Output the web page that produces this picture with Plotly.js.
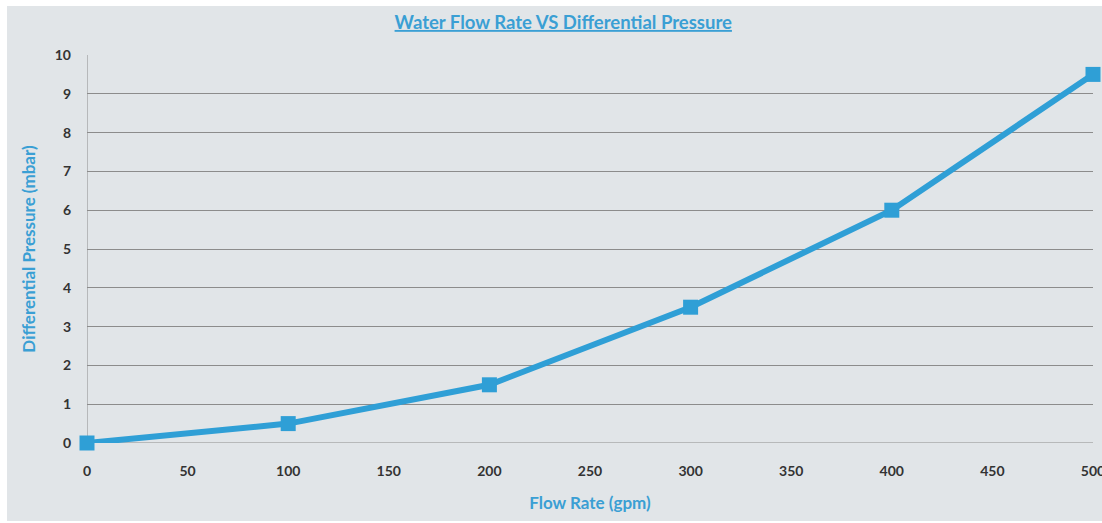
<!DOCTYPE html>
<html>
<head>
<meta charset="utf-8">
<script src="https://cdn.plot.ly/plotly-3.0.1.min.js"></script>
<style>
html,body{margin:0;padding:0;background:#ffffff;}
#chart{position:absolute;left:7px;top:6px;width:1095px;height:515px;}
</style>
</head>
<body>
<div id="chart"></div>
<script>
const flowRate = [0, 100, 200, 300, 400, 500];
const pressure = [0, 0.5, 1.5, 3.5, 6, 9.5];
const xTickVals = [0, 50, 100, 150, 200, 250, 300, 350, 400, 450, 500];
const yTickVals = [0, 1, 2, 3, 4, 5, 6, 7, 8, 9, 10];
const titleText = 'Water Flow Rate VS Differential Pressure';
const xTitle = 'Flow Rate (gpm)';
const yTitle = 'Differential Pressure (mbar)';

const blue = '#2f9fd6';
const trace = {
  x: flowRate,
  y: pressure,
  type: 'scatter',
  mode: 'lines+markers',
  line: {color: blue, width: 6},
  marker: {symbol: 'square', size: 15, color: blue},
  cliponaxis: false,
  hoverinfo: 'x+y'
};

const layout = {
  width: 1095,
  height: 515,
  paper_bgcolor: '#e1e5e8',
  plot_bgcolor: '#e1e5e8',
  margin: {l: 80, r: 9, t: 49, b: 78},
  showlegend: false,
  font: {family: 'Lato, sans-serif', color: '#333333'},
  title: {
    text: '<u>' + titleText + '</u>',
    font: {family: 'Lato, sans-serif', size: 18.5, color: '#3a9fd4', weight: 'bold'},
    x: 0.508, xanchor: 'center',
    y: 0.968, yanchor: 'middle'
  },
  xaxis: {
    range: [0, 500],
    tickmode: 'array',
    tickvals: xTickVals,
    ticktext: xTickVals.map(String),
    ticklabeloverflow: 'allow',
    showgrid: false,
    zeroline: false,
    showline: false,
    ticks: '',
    tickfont: {size: 14, color: '#333333', weight: 'bold'},
    ticklabelstandoff: 18,
    title: {text: xTitle, font: {size: 17, color: '#3a9fd4', weight: 'bold'}, standoff: 19}
  },
  yaxis: {
    range: [0, 10],
    tickmode: 'array',
    tickvals: yTickVals,
    ticktext: yTickVals.map(String),
    showgrid: true,
    gridcolor: '#8c8c8c',
    gridwidth: 1,
    zeroline: false,
    showline: false,
    ticks: '',
    tickfont: {size: 14, color: '#333333', weight: 'bold'},
    ticklabelstandoff: 15,
    title: {text: yTitle, font: {size: 17, color: '#3a9fd4', weight: 'bold'}, standoff: 14}
  },
  shapes: [
    {type: 'line', xref: 'x', yref: 'paper', x0: 0, x1: 0, y0: 0, y1: 1,
     line: {color: '#8c8c8c', width: 1}, layer: 'below'},
    {type: 'line', xref: 'paper', yref: 'y', x0: 0, x1: 1, y0: 0, y1: 0,
     line: {color: '#8c8c8c', width: 1}, layer: 'below'}
  ]
};

Plotly.newPlot('chart', [trace], layout, {displayModeBar: false, staticPlot: true});
</script>
</body>
</html>
